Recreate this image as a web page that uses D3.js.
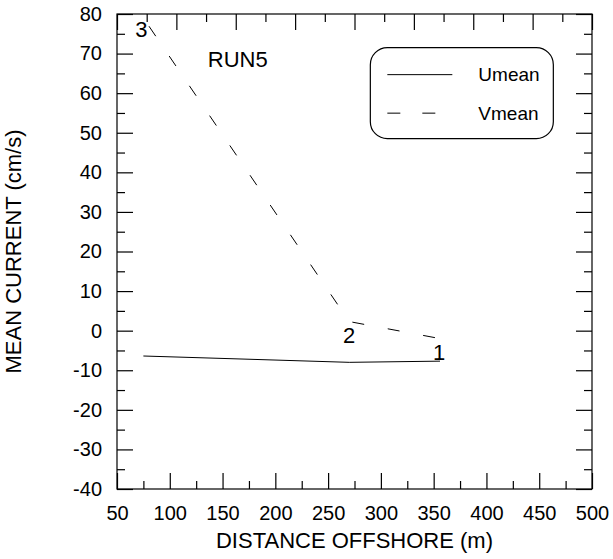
<!DOCTYPE html>
<html>
<head>
<meta charset="utf-8">
<script src="https://cdn.jsdelivr.net/npm/d3@7"></script>
<style>
  body { margin: 0; background: #fff; }
  text { font-family: Arial, "Liberation Sans", sans-serif; fill: #000; }
</style>
</head>
<body>
<script>
// data
const distance = [75, 270, 356];
const uMean = [-6.4, -8.0, -7.7];
const vMean = [79, 2.3, -2.0];
const pointLabels = ["3", "2", "1"];
const xTicks = [50, 100, 150, 200, 250, 300, 350, 400, 450, 500];
const yTicks = [-40, -30, -20, -10, 0, 10, 20, 30, 40, 50, 60, 70, 80];

const outerWidth = 613;
const outerHeight = 559;
const margin = {top: 14, right: 21, bottom: 70, left: 117};
const width = outerWidth - margin.left - margin.right;
const height = outerHeight - margin.top - margin.bottom;

const xScale = d3.scaleLinear().domain([50, 500]).range([0, width]);
const yScale = d3.scaleLinear().domain([-40, 80]).range([height, 0]);

const svg = d3.select("body").append("svg")
    .attr("width", outerWidth)
    .attr("height", outerHeight)
    .append("g")
    .attr("transform", `translate(${margin.left},${margin.top})`);

// frame
svg.append("rect")
    .attr("width", width).attr("height", height)
    .attr("fill", "none").attr("stroke", "#000").attr("stroke-width", 1.2);

function styleAxis(g) {
    g.select(".domain").remove();
    g.selectAll("line").attr("stroke", "#000").attr("stroke-width", 1.2);
    g.selectAll("text").style("font-size", "20px");
}

// plain hyphen for negatives, like the original
const plain = d => String(d);

// bottom axis, ticks inward
svg.append("g")
    .attr("transform", `translate(0,${height})`)
    .call(d3.axisBottom(xScale).tickValues(xTicks).tickSize(-16).tickSizeOuter(0).tickPadding(17).tickFormat(plain))
    .call(styleAxis);
svg.append("g")
    .attr("transform", `translate(0,${height})`)
    .call(d3.axisBottom(xScale).tickValues(d3.range(75, 500, 50)).tickSize(-8).tickSizeOuter(0).tickFormat(""))
    .call(styleAxis);

// top axis has its own spacing (8 intervals)
const topStep = 450 / 8;
svg.append("g")
    .call(d3.axisTop(xScale).tickValues(d3.range(50, 500.01, topStep)).tickSize(-16).tickSizeOuter(0).tickFormat(""))
    .call(styleAxis);
svg.append("g")
    .call(d3.axisTop(xScale).tickValues(d3.range(50 + topStep / 2, 500, topStep)).tickSize(-8).tickSizeOuter(0).tickFormat(""))
    .call(styleAxis);

// left axis
svg.append("g")
    .call(d3.axisLeft(yScale).tickValues(yTicks).tickSize(-16).tickSizeOuter(0).tickPadding(15).tickFormat(plain))
    .call(styleAxis);
svg.append("g")
    .call(d3.axisLeft(yScale).tickValues(d3.range(-35, 80, 10)).tickSize(-8).tickSizeOuter(0).tickFormat(""))
    .call(styleAxis);

// right axis
svg.append("g")
    .attr("transform", `translate(${width},0)`)
    .call(d3.axisRight(yScale).tickValues(yTicks).tickSize(-16).tickSizeOuter(0).tickFormat(""))
    .call(styleAxis);
svg.append("g")
    .attr("transform", `translate(${width},0)`)
    .call(d3.axisRight(yScale).tickValues(d3.range(-35, 80, 10)).tickSize(-8).tickSizeOuter(0).tickFormat(""))
    .call(styleAxis);

// axis titles
svg.append("text")
    .attr("x", width / 2).attr("y", height + 59)
    .attr("text-anchor", "middle")
    .style("font-size", "22px")
    .text("DISTANCE OFFSHORE (m)");

svg.append("text")
    .attr("transform", `translate(${-96},${height / 2}) rotate(-90)`)
    .attr("text-anchor", "middle")
    .style("font-size", "22px")
    .text("MEAN CURRENT (cm/s)");

// lines
const data = distance.map((d, i) => ({x: d, u: uMean[i], v: vMean[i]}));

const uLine = d3.line().x(d => xScale(d.x)).y(d => yScale(d.u));
const vLine = d3.line().x(d => xScale(d.x)).y(d => yScale(d.v));

svg.append("path")
    .datum(data)
    .attr("fill", "none").attr("stroke", "#000").attr("stroke-width", 1)
    .attr("d", uLine);

svg.append("path")
    .datum(data)
    .attr("fill", "none").attr("stroke", "#000").attr("stroke-width", 1)
    .attr("stroke-dasharray", "12,24")
    .attr("stroke-dashoffset", -10)
    .attr("d", vLine);

// station numbers: 3 and 2 sit by the V line, 1 by the U line end
const labelOffsets = [[-2, 11], [0, 14], [-1, -9]];
svg.selectAll(".pt")
    .data(data)
    .enter().append("text")
    .attr("class", "pt")
    .attr("x", (d, i) => xScale(d.x) + labelOffsets[i][0])
    .attr("y", (d, i) => yScale(i === 2 ? d.u : d.v) + labelOffsets[i][1])
    .attr("dy", "0.35em")
    .attr("text-anchor", "middle")
    .style("font-size", "22px")
    .text((d, i) => pointLabels[i]);

// run name
svg.append("text")
    .attr("x", xScale(136)).attr("y", yScale(66.5))
    .style("font-size", "22px")
    .text("RUN5");

// legend
const legend = svg.append("g")
    .attr("transform", `translate(${xScale(290)},${yScale(71.5)})`);
legend.append("rect")
    .attr("width", 183).attr("height", 91).attr("rx", 17)
    .attr("fill", "#fff").attr("stroke", "#000").attr("stroke-width", 1.2);
const legendItems = [{name: "Umean", dash: null}, {name: "Vmean", dash: "13,22"}];
legendItems.forEach((item, i) => {
    const yy = 27 + i * 38.5;
    legend.append("line")
        .attr("x1", 17).attr("x2", 82).attr("y1", yy).attr("y2", yy)
        .attr("stroke", "#000").attr("stroke-width", 1)
        .attr("stroke-dasharray", item.dash);
    legend.append("text")
        .attr("x", 108).attr("y", yy).attr("dy", "0.35em")
        .style("font-size", "19px")
        .text(item.name);
});
</script>
</body>
</html>
